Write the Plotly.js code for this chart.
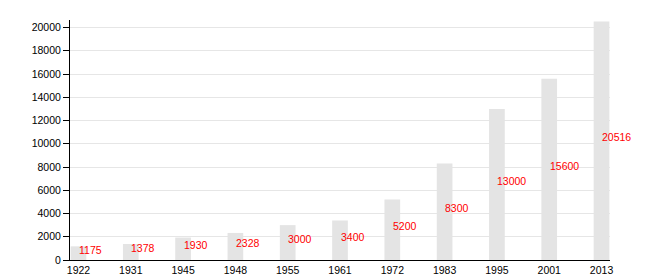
<!DOCTYPE html>
<html>
<head>
<meta charset="utf-8">
<script src="https://cdn.plot.ly/plotly-3.0.1.min.js"></script>
<style>html,body{margin:0;padding:0;background:#fff;}#chart{width:650px;height:280px;}</style>
</head>
<body>
<div id="chart"></div>
<script>
const years = ["1922","1931","1945","1948","1955","1961","1972","1983","1995","2001","2013"];
const population = [1175, 1378, 1930, 2328, 3000, 3400, 5200, 8300, 13000, 15600, 20516];
const yTicks = [0, 2000, 4000, 6000, 8000, 10000, 12000, 14000, 16000, 18000, 20000];

const FONT = "Liberation Sans, Arial, sans-serif";

const trace = {
  type: "bar",
  x: years,
  y: population,
  width: 0.3,
  marker: {color: "#e4e4e4", line: {width: 0}},
  hoverinfo: "none"
};

// category axis: annotation x given as category index
const annotations = years.map((yr, i) => ({
  x: i,
  y: population[i] / 2,
  xref: "x",
  yref: "y",
  text: String(population[i]),
  showarrow: false,
  xanchor: "left",
  yanchor: "middle",
  xshift: -1.5,
  yshift: 3.5,
  font: {family: FONT, size: 10.5, color: "#ff0000"}
}));

const layout = {
  width: 650,
  height: 280,
  margin: {l: 70, r: 39.5, t: 20, b: 20, pad: 0},
  paper_bgcolor: "#ffffff",
  plot_bgcolor: "#ffffff",
  showlegend: false,
  font: {family: FONT, size: 10.5, color: "#000"},
  xaxis: {
    type: "category",
    range: [-0.162, 10.162],
    showgrid: false,
    showline: true,
    linecolor: "#000",
    linewidth: 1,
    ticks: "",
    tickfont: {family: FONT, size: 10.5, color: "#000"},
    fixedrange: true
  },
  yaxis: {
    range: [0, 20650],
    tickvals: yTicks,
    ticktext: yTicks.map(String),
    showgrid: true,
    gridcolor: "#e6e6e6",
    gridwidth: 1,
    zeroline: false,
    showline: true,
    linecolor: "#000",
    linewidth: 1,
    ticks: "outside",
    ticklen: 6,
    tickcolor: "#000",
    tickfont: {family: FONT, size: 10.5, color: "#000"},
    fixedrange: true
  },
  annotations: annotations
};

Plotly.newPlot("chart", [trace], layout, {staticPlot: true, displayModeBar: false});
</script>
</body>
</html>
